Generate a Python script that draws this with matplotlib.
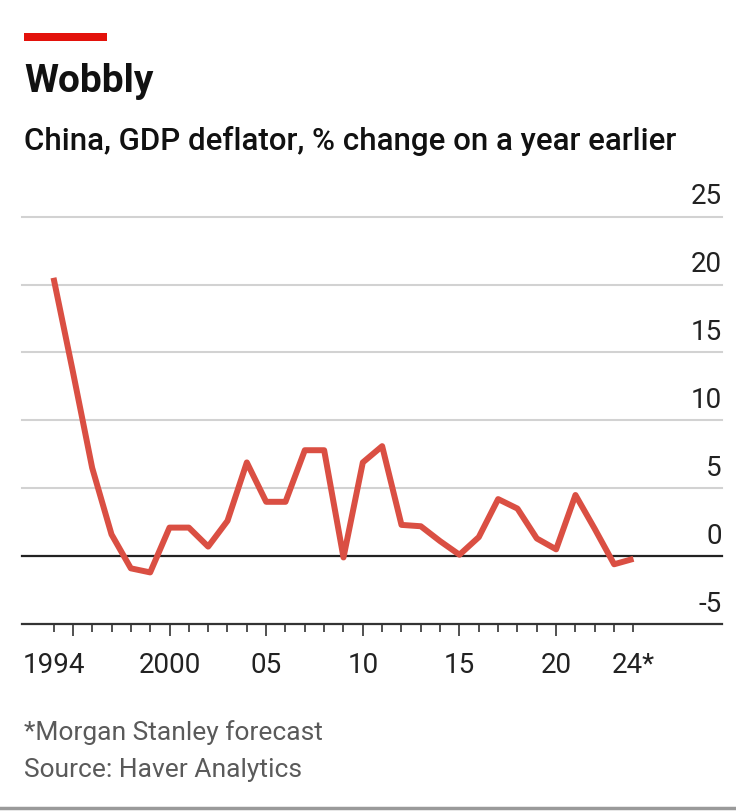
import matplotlib
matplotlib.use("Agg")
import matplotlib.pyplot as plt
import matplotlib.transforms as mtransforms
from matplotlib.lines import Line2D
from matplotlib.patches import Rectangle

# Data
years = list(range(1994, 2025))
deflator = [20.5, 13.6, 6.5, 1.6, -0.9, -1.2, 2.1, 2.1, 0.7, 2.6,
            6.9, 4.0, 4.0, 7.8, 7.8, -0.1, 6.9, 8.1, 2.3, 2.2,
            1.1, 0.1, 1.4, 4.2, 3.5, 1.3, 0.5, 4.5, 2.0, -0.6, -0.2]
y_ticks = [-5, 0, 5, 10, 15, 20, 25]
x_label_years = [1994, 2000, 2005, 2010, 2015, 2020, 2024]
x_labels = ["1994", "2000", "05", "10", "15", "20", "24*"]

plt.rcParams['font.family'] = ['Roboto', 'DejaVu Sans']

W, H = 736, 811
fig = plt.figure(figsize=(W / 100, H / 100), dpi=100)

# axes placed by pixel coordinates
left, right, top, bottom = 22, 722, 216.7, 624
ax = fig.add_axes([left / W, 1 - bottom / H, (right - left) / W, (bottom - top) / H])
ax.set_xlim(1992.37, 2028.58)
ax.set_ylim(-5, 25)

# gridlines and zero line
for v in y_ticks[1:]:
    if v == 0:
        ax.axhline(v, color='#222222', lw=1.6, zorder=2, clip_on=False)
    else:
        ax.axhline(v, color='#d2d2d2', lw=1.5, zorder=1, clip_on=False)

# y labels sit above their gridline, right aligned
trans = mtransforms.blended_transform_factory(ax.transAxes, ax.transData)
for v in y_ticks:
    ax.annotate(str(v), xy=(1.0, v), xycoords=trans, xytext=(0, 4.5),
                textcoords='offset points', ha='right', va='bottom',
                fontsize=20, color='#222222')

ax.plot(years, deflator, color='#da4f43', lw=4.3, solid_joinstyle='round',
        solid_capstyle='butt', zorder=3)

for s in ['top', 'right', 'left']:
    ax.spines[s].set_visible(False)
ax.spines['bottom'].set_color('#333333')
ax.spines['bottom'].set_linewidth(1.6)

# ticks: longer every fifth year, short for the rest
ax.set_yticks([])
ax.set_xticks([y for y in years if y % 5 == 0])
ax.set_xticklabels([])
ax.set_xticks([y for y in years if y % 5 != 0], minor=True)
ax.tick_params(axis='x', which='major', length=8.5, width=1.2, color='#333333')
ax.tick_params(axis='x', which='minor', length=5.5, width=1.2, color='#333333')

for y, lab in zip(x_label_years, x_labels):
    ax.annotate(lab, xy=(y, 0), xycoords=('data', 'axes fraction'), xytext=(0, -20),
                textcoords='offset points', ha='center', va='top', fontsize=20,
                color='#222222')

# header
fig.add_artist(Rectangle((24 / W, 1 - 41 / H), 83 / W, 8 / H, transform=fig.transFigure,
                         color='#e3120b', lw=0))
fig.text(24 / W, 1 - 92 / H, "Wobbly", fontsize=28, fontweight='bold',
         color='#111111', va='baseline')
fig.text(24 / W, 1 - 150 / H, "China, GDP deflator, % change on a year earlier",
         fontsize=22.5, fontweight='medium', color='#111111', va='baseline')

# footer
fig.text(24 / W, 1 - 740 / H, "*Morgan Stanley forecast", fontsize=19,
         color='#5a5a5a', va='baseline')
fig.text(24 / W, 1 - 777 / H, "Source: Haver Analytics", fontsize=19,
         color='#5a5a5a', va='baseline')
fig.add_artist(Line2D([0, 1], [1 - 808 / H] * 2, transform=fig.transFigure,
                      color='#9a9a9a', lw=2.5))

fig.savefig("out.png", dpi=100)
